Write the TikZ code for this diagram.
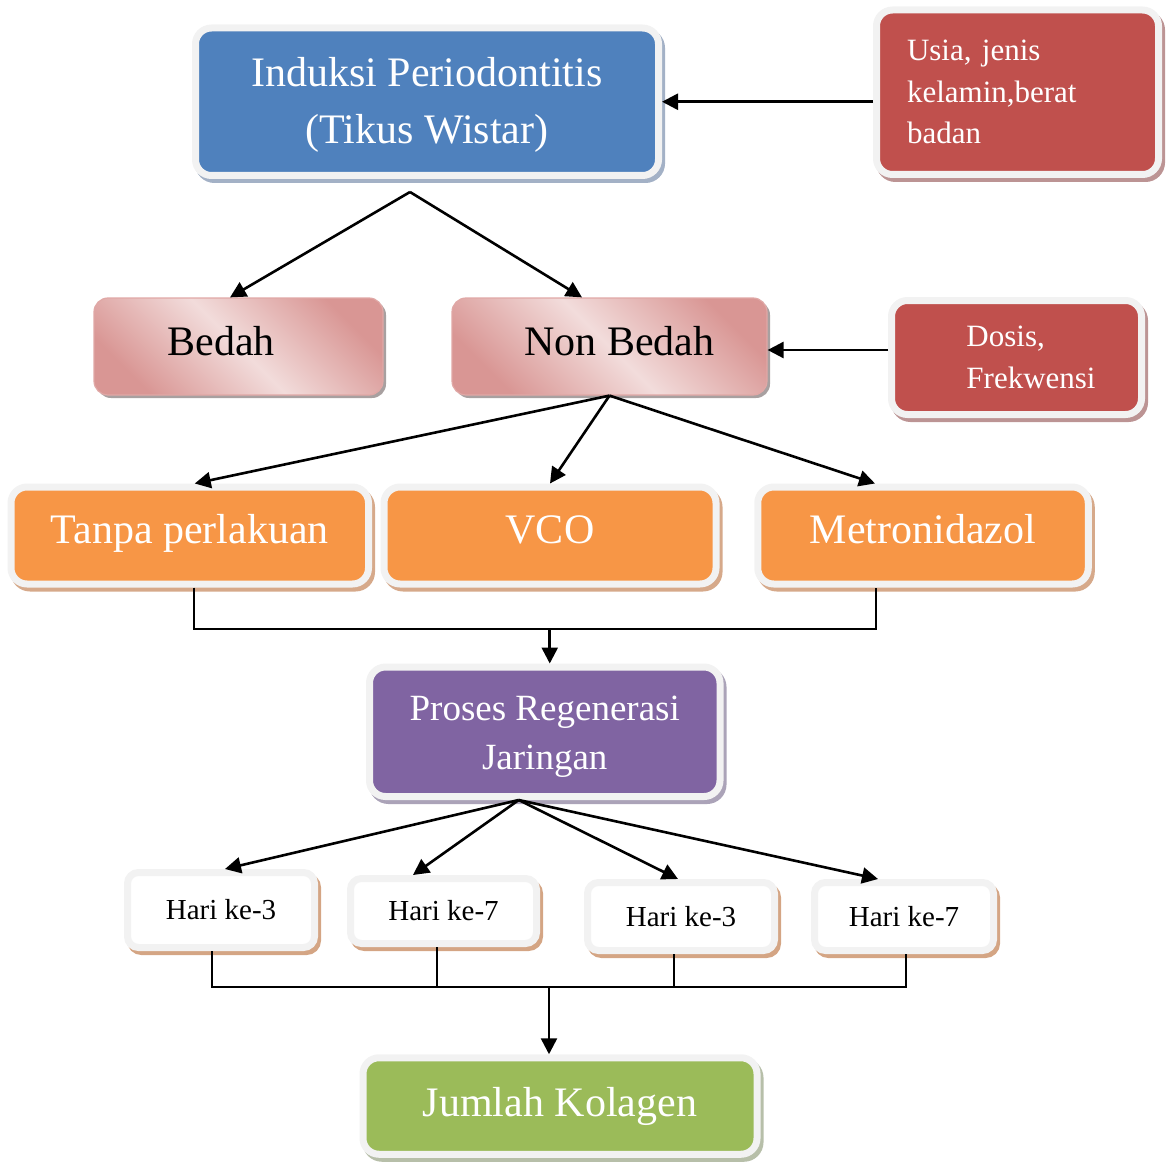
\documentclass[tikz,border=0pt]{standalone}
\usepackage{fontspec}
\setmainfont{Liberation Serif}
\usetikzlibrary{arrows.meta,shadows,calc}
\frenchspacing

\definecolor{rim}{HTML}{F2F2F2}
\definecolor{cblue}{HTML}{4F81BD}
\definecolor{sblue}{HTML}{A3B1C6}
\definecolor{cred}{HTML}{C0504D}
\definecolor{sred}{HTML}{BC9494}
\definecolor{corange}{HTML}{F79646}
\definecolor{sorange}{HTML}{D6A98A}
\definecolor{cpurple}{HTML}{8064A2}
\definecolor{spurple}{HTML}{ABA3B8}
\definecolor{cgreen}{HTML}{9BBB59}
\definecolor{sgreen}{HTML}{B7BFA9}
\definecolor{shari}{HTML}{D4A584}
\definecolor{pinkL}{HTML}{F2DCDB}
\definecolor{pinkD}{HTML}{D99694}
\definecolor{pinkRim}{HTML}{E0A8A6}
\definecolor{pinkShad}{HTML}{A8A0A0}

\begin{document}
\begin{tikzpicture}[x=1pt,y=-1pt,
  box/.style={draw=rim, line width=7pt, rounded corners=16pt, inner sep=0pt,
              align=center, text=white},
  shad/.style={general shadow={fill=#1, draw=#1, shadow xshift=3pt, shadow yshift=-4pt}},
  big/.style={font=\fontsize{42}{57}\selectfont},
  oneline/.style={text height=28.5pt, text depth=13.5pt},
  redtxt/.style={font=\fontsize{31}{41.5}\selectfont},
  hari/.style={box, fill=white, text=black, rounded corners=11pt, shad=shari,
               font=\fontsize{29}{35}\selectfont},
  pbox/.style={draw=pinkRim, line width=1.2pt, rounded corners=14pt, inner sep=0pt,
               left color=pinkD, right color=pinkD, middle color=pinkL, shading angle=-45,
               general shadow={fill=pinkShad, shadow xshift=3pt, shadow yshift=-3pt},
               text=black, font=\fontsize{42}{57}\selectfont,
               text height=28.5pt, text depth=11.5pt},
  arr/.style={line width=2.6pt, -{Triangle[length=16pt,width=16pt]}},
  conn/.style={line width=1.8pt}
]
\useasboundingbox (0,0) rectangle (1169,1161);

% nodes
\node[box, shad=sblue, fill=cblue, big, minimum width=463pt, minimum height=147.5pt]
  (induksi) at (427,101.75) {\rule{0pt}{35pt}Induksi Periodontitis\\(Tikus Wistar)};
\node[box, shad=sred, fill=cred, redtxt, minimum width=282pt, minimum height=164.5pt,
      text width=221pt, inner xsep=30.5pt, align=left]
  (usia) at (1017.5,92.25) {Usia, jenis\\kelamin,berat\\badan};

\node[pbox, minimum width=289pt, minimum height=97pt] (bedah) at (238.5,346.5) {Bedah\hspace*{35pt}};
\node[pbox, minimum width=315pt, minimum height=97pt] (nonbedah) at (609.5,346.5) {\hspace*{20pt}Non Bedah};
\node[box, shad=sred, fill=cred, redtxt, minimum width=250pt, minimum height=114pt, align=left]
  (dosis) at (1016.5,357.5) {\hspace*{29pt}Dosis,\\\hspace*{29pt}Frekwensi};

\node[box, shad=sorange, fill=corange, big, oneline, minimum width=357.5pt, minimum height=97pt]
  (tanpa) at (189.75,535.5) {Tanpa perlakuan};
\node[box, shad=sorange, fill=corange, big, oneline, minimum width=332pt, minimum height=97pt]
  (vco) at (550,535.5) {VCO};
\node[box, shad=sorange, fill=corange, big, oneline, minimum width=330.5pt, minimum height=97pt]
  (metro) at (923,535.5) {Metronidazol};

\node[box, shad=spurple, fill=cpurple, font=\fontsize{37}{49}\selectfont,
      minimum width=350.5pt, minimum height=129.5pt]
  (proses) at (544.75,731.75) {\rule{0pt}{35pt}Proses Regenerasi\\Jaringan};

\node[hari, minimum width=187pt, minimum height=75pt] (hari1) at (221,910) {Hari ke-3};
\node[hari, minimum width=186pt, minimum height=65pt] (hari2) at (443.5,911) {Hari ke-7};
\node[hari, minimum width=187pt, minimum height=68pt] (hari3) at (681,916.5) {Hari ke-3};
\node[hari, minimum width=179pt, minimum height=68pt] (hari4) at (904,916.5) {Hari ke-7};

\node[box, shad=sgreen, fill=cgreen, big, minimum width=394pt, minimum height=96.5pt]
  (jumlah) at (560,1106) {Jumlah Kolagen};

% connectors
\draw[arr] (usia.west |- induksi.east) -- (induksi.east);

\coordinate (s1) at ([xshift=-17pt,yshift=-13pt]induksi.south);
\draw[arr] (s1) -- ([xshift=-8.5pt]bedah.north);
\draw[arr] (s1) -- ([xshift=-27.5pt]nonbedah.north);

\coordinate (nbE) at ([yshift=-3.5pt]nonbedah.east);
\draw[arr] (dosis.west |- nbE) -- (nbE);

\draw[arr] (nonbedah.south) -- ([xshift=5pt]tanpa.north);
\draw[arr] (nonbedah.south) -- (vco.north);
\draw[arr] (nonbedah.south) -- ([xshift=-48pt]metro.north);

\coordinate (t1) at ([xshift=4pt]tanpa.south);
\coordinate (m1) at ([xshift=-47pt]metro.south);
\coordinate (j1) at ($(t1)+(0,41.5)$);
\draw[conn] (t1) -- (j1) -| (m1);
\coordinate (pn) at ([xshift=5pt]proses.north);
\draw[arr] (pn |- j1) -- (pn);

\coordinate (s2) at ([xshift=-26pt]proses.south);
\draw[arr] (s2) -- ([xshift=4pt]hari1.north);
\draw[arr] (s2) -- ([xshift=-30.5pt]hari2.north);
\draw[arr] (s2) -- ([xshift=-3pt]hari3.north);
\draw[arr] (s2) -- ([xshift=-26pt]hari4.north);

\coordinate (b1) at ([xshift=-9pt]hari1.south);
\coordinate (b2) at ([xshift=-6.5pt]hari2.south);
\coordinate (b3) at ([xshift=-7pt]hari3.south);
\coordinate (b4) at ([xshift=2pt]hari4.south);
\coordinate (hb) at ($(b1)+(0,36)$);
\draw[conn] (b1) -- (hb) -- (hb -| b4) -- (b4);
\draw[conn] (b2) -- (b2 |- hb);
\draw[conn] (b3) -- (b3 |- hb);
\coordinate (jn) at ([xshift=-11pt]jumlah.north);
\draw[arr] (jn |- hb) -- (jn);
\end{tikzpicture}
\end{document}
